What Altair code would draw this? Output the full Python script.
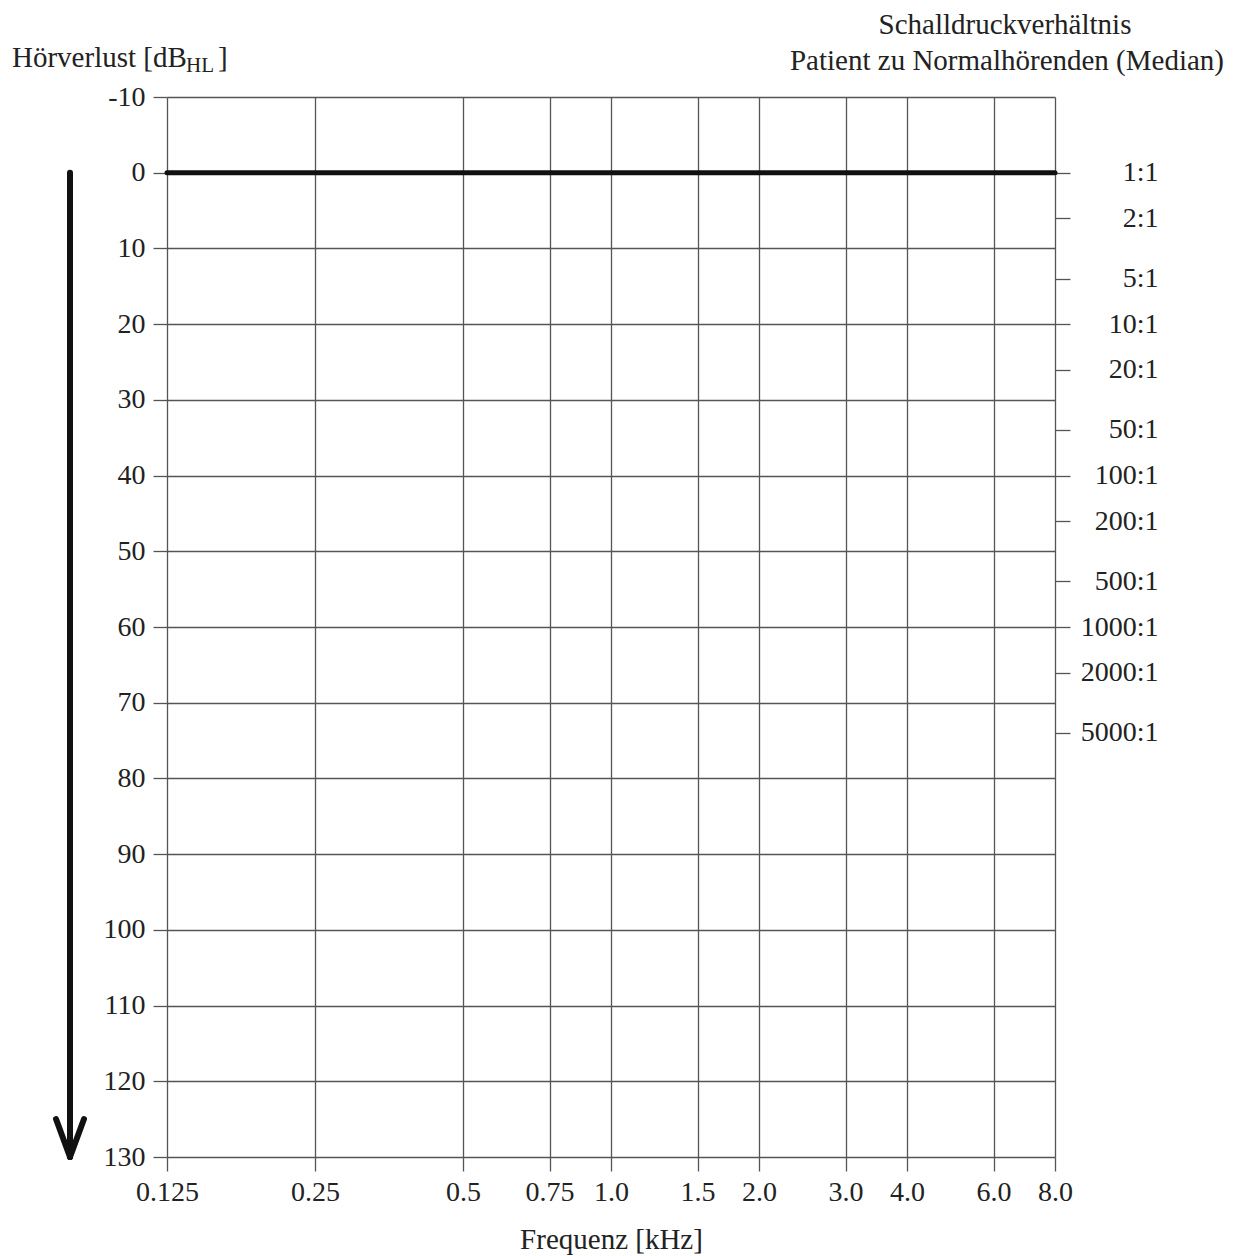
import altair as alt
import pandas as pd

# ---- data ----
freq_ticks = [0.125, 0.25, 0.5, 0.75, 1.0, 1.5, 2.0, 3.0, 4.0, 6.0, 8.0]
freq_labels = ["0.125", "0.25", "0.5", "0.75", "1.0", "1.5", "2.0", "3.0", "4.0", "6.0", "8.0"]
db_ticks = [-10, 0, 10, 20, 30, 40, 50, 60, 70, 80, 90, 100, 110, 120, 130]
ratio_values = [1, 2, 5, 10, 20, 50, 100, 200, 500, 1000, 2000, 5000]
ratio_labels = ["1:1", "2:1", "5:1", "10:1", "20:1", "50:1", "100:1", "200:1",
                "500:1", "1000:1", "2000:1", "5000:1"]
zero_line_freq = [0.125, 8.0]
zero_line_db = [0, 0]
arrow_db_start = [0]
arrow_db_end = [130]
db_domain = [-10, 130]
ratio_domain = [10 ** (-0.5), 10 ** 6.5]   # same span as -10..130 dB (20*log10)

FONT = "Liberation Serif"
LFS = 28
TFS = 29
GRID = "#555555"
INK = "#222222"

freq_expr = "[" + ",".join("'%s'" % s for s in freq_labels) + "][indexof([" + \
    ",".join(str(v) for v in freq_ticks) + "], datum.value)]"
ratio_expr = "[" + ",".join("'%s'" % s for s in ratio_labels) + "][indexof([" + \
    ",".join(str(v) for v in ratio_values) + "], datum.value)]"

xscale = alt.Scale(type="log", domain=[0.125, 8.0], nice=False, zero=False)

zero_df = pd.DataFrame({"freq": zero_line_freq, "db": zero_line_db})
ratio_df = pd.DataFrame({"ratio": ratio_values})
arrow_df = pd.DataFrame({"s": arrow_db_start, "e": arrow_db_end})
dummy = pd.DataFrame({"a": [0]})

base = alt.Chart(zero_df).mark_line(color="#111111", strokeWidth=5, strokeCap="round").encode(
    x=alt.X("freq:Q", scale=xscale,
            axis=alt.Axis(values=freq_ticks, labelExpr=freq_expr, orient="bottom",
                          title="Frequenz [kHz]", grid=True, tickSize=14,
                          labelPadding=7, titlePadding=19, labelOverlap=False,
                          labelFlush=False)),
    y=alt.Y("db:Q", scale=alt.Scale(domain=db_domain, reverse=True, nice=False, zero=False),
            axis=alt.Axis(values=db_ticks, labelExpr="toString(datum.value)", orient="left",
                          title=None, grid=True, tickSize=14, labelPadding=8,
                          labelOverlap=False, labelFlush=False)),
)

right = alt.Chart(ratio_df).mark_point(opacity=0).encode(
    y=alt.Y("ratio:Q",
            scale=alt.Scale(type="log", domain=ratio_domain, reverse=True, nice=False, zero=False),
            axis=alt.Axis(values=ratio_values, labelExpr=ratio_expr, orient="right",
                          title=None, grid=False, tickSize=15, labelPadding=88,
                          labelAlign="right", labelOverlap=False, labelFlush=False,
                          domain=False)),
)

arrow = alt.Chart(arrow_df).mark_rule(color="#111111", strokeWidth=6, strokeCap="round").encode(
    x=alt.value(-97),
    y=alt.Y("s:Q", scale=alt.Scale(domain=db_domain, reverse=True, nice=False, zero=False), axis=None),
    y2="e:Q",
)
head_l = alt.Chart(dummy).mark_rule(color="#111111", strokeWidth=6, strokeCap="round").encode(
    x=alt.value(-111), y=alt.value(1022), x2=alt.value(-97), y2=alt.value(1060))
head_r = alt.Chart(dummy).mark_rule(color="#111111", strokeWidth=6, strokeCap="round").encode(
    x=alt.value(-83), y=alt.value(1022), x2=alt.value(-97), y2=alt.value(1060))


def txt(text, x, y, size=TFS, align="left"):
    return alt.Chart(dummy).mark_text(font=FONT, fontSize=size, align=align,
                                      baseline="alphabetic", color=INK).encode(
        x=alt.value(x), y=alt.value(y), text=alt.value(text))


t1 = txt("Hörverlust [dB", -155, -30)
t2 = txt("HL", 19, -25, size=21)
t3 = txt("]", 51, -30)
t4 = txt("Schalldruckverhältnis", 838, -63, align="center")
t5 = txt("Patient zu Normalhörenden (Median)", 840, -27, align="center")

chart = alt.layer(base, right, arrow, head_l, head_r, t1, t2, t3, t4, t5).resolve_scale(
    y="independent"
).properties(
    width=888, height=1060,
    padding={"left": 159, "top": 89, "right": 172, "bottom": 100},
    autosize=alt.AutoSizeParams(type="none"),
).configure_view(stroke=None).configure_axis(
    domain=False, gridColor=GRID, gridWidth=1.3, gridOpacity=1,
    tickColor=GRID, tickWidth=1.3,
    labelFont=FONT, labelFontSize=LFS, labelColor=INK,
    titleFont=FONT, titleFontSize=TFS, titleFontWeight="normal", titleColor=INK,
)

chart.save("out.html", embed_options={"renderer": "svg", "actions": False})
